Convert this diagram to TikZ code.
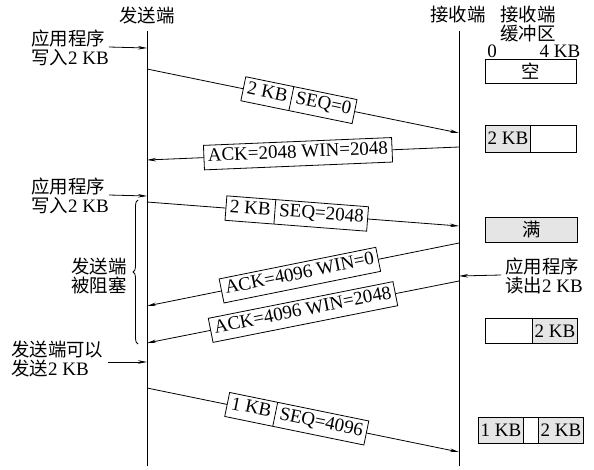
\documentclass[tikz,border=0pt]{standalone}
\usepackage{fontspec}
\setmainfont{Liberation Serif}
\newfontfamily\cjk{Noto Sans CJK SC}[Scale=0.97]
\usetikzlibrary{arrows.meta,shapes.multipart,decorations.pathreplacing}
\begin{document}
\begin{tikzpicture}[x=1pt,y=-1pt,
  every node/.style={font=\fontsize{19pt}{19.5pt}\selectfont, inner sep=0pt},
  axis/.style={line width=1pt},
  msgline/.style={line width=0.8pt, -{Stealth[length=9pt,width=3.5pt]}},
  sidearrow/.style={line width=0.8pt, -{Stealth[length=9pt,width=3.5pt]}},
  tag/.style={draw, fill=white, line width=0.8pt, sloped, inner xsep=4pt, inner ysep=2.5pt},
  tagsplit/.style={tag, rectangle split, rectangle split horizontal, rectangle split parts=2},
  lbl/.style={align=left, anchor=west},
  cell/.style={draw, line width=0.8pt, inner sep=0pt, anchor=west},
  fullcell/.style={cell, fill=gray!20},
]
\useasboundingbox (0,0) rectangle (594,469);

% axes
\coordinate (st) at (147,31);
\coordinate (sb) at (147,466);
\coordinate (rt) at (459,31);
\coordinate (rb) at (459,466);
\draw[axis] (st) -- (sb);
\draw[axis] (rt) -- (rb);

% headings
\node (hs) at (147,15) {\cjk 发送端};
\node (hr) at (458,15) {\cjk 接收端};
\node[align=center] (hb) at (528,24) {\cjk 接收端\\\cjk 缓冲区};
\node (z0) at (492,51) {0};
\node (z4) at (560,51) {4 KB};

% message endpoints
\coordinate (m1s) at (147,69);
\coordinate (m1r) at (459,133);
\coordinate (a1r) at (459,147);
\coordinate (a1s) at (147,160);
\coordinate (m2s) at (147,202);
\coordinate (m2r) at (459,226);
\coordinate (a2r) at (459,243);
\coordinate (a2s) at (147,306);
\coordinate (a3r) at (459,281);
\coordinate (a3s) at (147,343);
\coordinate (m3s) at (147,388);
\coordinate (m3r) at (459,452);

% messages
\draw[msgline] (m1s) -- node[tagsplit, pos=0.487] (t1) {2 KB\strut\nodepart{two}SEQ=0\strut} (m1r);
\draw[msgline] (a1r) -- node[tag, pos=0.516] (t2) {ACK=2048 WIN=2048\strut} (a1s);
\draw[msgline] (m2s) -- node[tagsplit, pos=0.48] (t3) {2 KB\strut\nodepart{two}SEQ=2048\strut} (m2r);
\draw[msgline] (a2r) -- node[tag, pos=0.51] (t4) {ACK=4096 WIN=0\strut} (a2s);
\draw[msgline] (a3r) -- node[tag, pos=0.50] (t5) {ACK=4096 WIN=2048\strut} (a3s);
\draw[msgline] (m3s) -- node[tagsplit, pos=0.48] (t6) {1 KB\strut\nodepart{two}SEQ=4096\strut} (m3r);

% side notes
\node[lbl] (w1) at (31,48) {{\cjk 应用程序}\\{\cjk 写入}2 KB};
\draw[sidearrow] (109,47) -- (w1.east -| st);
\node[lbl] (w2) at (31,196) {{\cjk 应用程序}\\{\cjk 写入}2 KB};
\draw[sidearrow] (109,195) -- (w2.east -| st);
\node[lbl] (w3) at (11,359) {{\cjk 发送端可以}\\{\cjk 发送}2 KB};
\draw[sidearrow] (108,362) -- (147,362);
\node[lbl] (rd) at (505,276) {{\cjk 应用程序}\\{\cjk 读出}2 KB};
\draw[sidearrow] (501,275) -- (rd.west -| rt);

% blocked brace
\coordinate (bt) at (138,200);
\coordinate (bb) at (138,344);
\draw[line width=0.8pt, decorate, decoration={brace, amplitude=5pt}] (bb) -- (bt);
\node[lbl] (blk) at (71,276) {\cjk 发送端\\\cjk 被阻塞};

% buffers
\node[cell, minimum width=91pt, minimum height=24pt] (b1) at (485,71) {\cjk 空};
\node[fullcell, minimum width=45pt, minimum height=27pt] (b2a) at (485,138.5) {2 KB};
\node[cell, minimum width=46pt, minimum height=27pt] (b2b) at (530,138.5) {};
\node[fullcell, minimum width=92pt, minimum height=25pt] (b3) at (485,229.5) {\cjk 满};
\node[cell, minimum width=47pt, minimum height=25pt] (b4a) at (485,331) {};
\node[fullcell, minimum width=45pt, minimum height=25pt] (b4b) at (532,331) {2 KB};
\node[fullcell, minimum width=45pt, minimum height=26pt] (b5a) at (478,430) {1 KB};
\node[cell, minimum width=15pt, minimum height=26pt] (b5b) at (523,430) {};
\node[fullcell, minimum width=45pt, minimum height=26pt] (b5c) at (538,430) {2 KB};
\end{tikzpicture}
\end{document}
